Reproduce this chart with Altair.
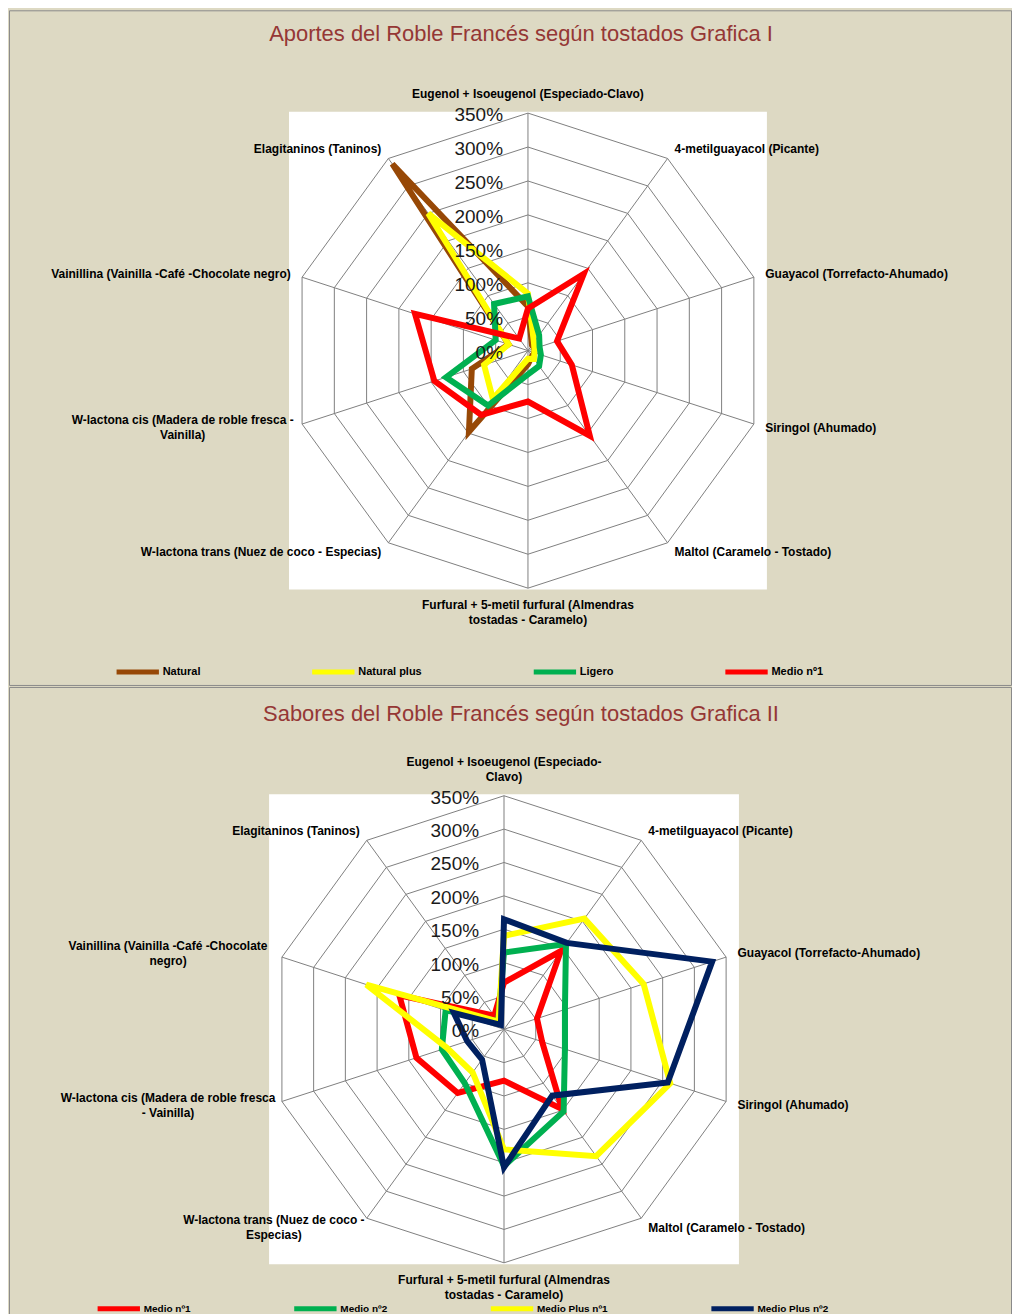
import altair as alt
import pandas as pd

# ---------------- data ----------------
CATS_1 = [
    "Eugenol + Isoeugenol (Especiado-Clavo)",
    "4-metilguayacol (Picante)",
    "Guayacol (Torrefacto-Ahumado)",
    "Siringol (Ahumado)",
    "Maltol (Caramelo - Tostado)",
    "Furfural + 5-metil furfural (Almendras\ntostadas - Caramelo)",
    "W-lactona trans (Nuez de coco  - Especias)",
    "W-lactona cis (Madera de roble fresca -\nVainilla)",
    "Vainillina (Vainilla -Café -Chocolate negro)",
    "Elagitaninos (Taninos)",
]
CATS_2 = [
    "Eugenol + Isoeugenol (Especiado-\nClavo)",
    "4-metilguayacol (Picante)",
    "Guayacol (Torrefacto-Ahumado)",
    "Siringol (Ahumado)",
    "Maltol (Caramelo - Tostado)",
    "Furfural + 5-metil furfural (Almendras\ntostadas - Caramelo)",
    "W-lactona trans (Nuez de coco -\nEspecias)",
    "W-lactona cis (Madera de roble fresca\n- Vainilla)",
    "Vainillina (Vainilla -Café -Chocolate\nnegro)",
    "Elagitaninos (Taninos)",
]

SERIES_1 = ["Natural", "Natural plus", "Ligero", "Medio nº1"]
NATURAL = [65, 10, 10, 10, 10, 20, 148, 87, 30, 340]
NATURAL_PLUS = [84, 15, 10, 10, 15, 12, 88, 68, 30, 250]
LIGERO = [80, 28, 18, 20, 28, 35, 100, 127, 50, 85]
MEDIO_1_A = [62, 140, 45, 68, 155, 75, 117, 145, 175, 22]
COLORS_1 = ["#974806", "#FFFF00", "#00B050", "#FF0000"]

SERIES_2 = ["Medio nº1", "Medio nº2", "Medio Plus nº1", "Medio Plus nº2"]
MEDIO_1_B = [70, 145, 52, 60, 148, 77, 118, 138, 165, 25]
MEDIO_2 = [115, 158, 96, 96, 152, 205, 100, 98, 92, 15]
MEDIO_PLUS_1 = [140, 205, 220, 262, 235, 180, 80, 90, 217, 14]
MEDIO_PLUS_2 = [165, 160, 328, 258, 123, 207, 56, 58, 79, 8]
COLORS_2 = ["#FF0000", "#00B050", "#FFFF00", "#002060"]

RING_VALUES = [0, 50, 100, 150, 200, 250, 300, 350]
RING_LABELS = ["0%", "50%", "100%", "150%", "200%", "250%", "300%", "350%"]

TITLE_1 = "Aportes del Roble Francés según tostados Grafica I"
TITLE_2 = "Sabores del Roble Francés según tostados Grafica II"

# ---------------- style ----------------
PANEL_W = 1004
BG = "#DDD9C3"
GRID = "#808080"
TITLE_COLOR = "#953735"
LBL_FONT = "'Liberation Sans Narrow', 'Liberation Sans', Arial, sans-serif"
TITLE_FONT = "'Liberation Sans', Arial, sans-serif"
RING_FONT = "'Liberation Sans', Arial, sans-serif"
CHARW = 5.55  # approx px per character of category labels
LINE_H = 15


def radar(title, title_dy, cats, names, values, colors, cx, cy, px, height,
          legend_x, legend_y, legend_font, legend_pad):
    n = len(cats)
    rmax = RING_VALUES[-1]
    xs = alt.Scale(domain=[-cx / px, (PANEL_W - cx) / px], nice=False, zero=False)
    ys = alt.Scale(domain=[-(height - cy) / px, cy / px], nice=False, zero=False)
    ang = f"datum.k * 2 * PI / {n}"

    def X(f):
        return alt.X(f, type="quantitative", scale=xs, axis=None)

    def Y(f):
        return alt.Y(f, type="quantitative", scale=ys, axis=None)

    wr = rmax * 1.006
    plot_bg = alt.Chart(pd.DataFrame({"lo": [-wr], "hi": [wr]})).mark_rect(
        color="white"
    ).encode(x=X("lo"), x2="hi:Q", y=Y("lo"), y2="hi:Q")

    ring_df = pd.DataFrame([{"r": r, "k": k} for r in RING_VALUES[1:] for k in range(n)])
    rings = alt.Chart(ring_df).transform_calculate(a=ang).transform_calculate(
        x="datum.r * sin(datum.a)", y="datum.r * cos(datum.a)"
    ).mark_line(interpolate="linear-closed", stroke=GRID, strokeWidth=1).encode(
        x=X("x"), y=Y("y"), detail="r:N", order="k:Q"
    )

    spoke_df = pd.DataFrame({"k": list(range(n)), "r": [rmax] * n})
    spokes = alt.Chart(spoke_df).transform_calculate(a=ang).transform_calculate(
        x="datum.r * sin(datum.a)", y="datum.r * cos(datum.a)", o="0"
    ).mark_rule(stroke=GRID, strokeWidth=1).encode(
        x=X("o"), y=Y("o"), x2="x:Q", y2="y:Q"
    )

    rows = [
        {"series": nm, "k": k, "v": v}
        for nm, vals in zip(names, values)
        for k, v in enumerate(vals)
    ]
    sdf = pd.DataFrame(rows)
    color = alt.Color(
        "series:N",
        scale=alt.Scale(domain=names, range=colors),
        legend=alt.Legend(
            title=None, orient="none", legendX=legend_x, legendY=legend_y,
            direction="horizontal", symbolType="stroke", symbolStrokeWidth=5,
            symbolSize=1800, clipHeight=12, labelFont=LBL_FONT,
            labelFontSize=legend_font, labelFontWeight="bold", labelColor="black",
            columnPadding=legend_pad, labelOffset=1, padding=0,
        ),
    )
    lines = [
        alt.Chart(sdf).transform_filter(alt.datum.series == nm)
        .transform_calculate(a=ang)
        .transform_calculate(x="datum.v * sin(datum.a)", y="datum.v * cos(datum.a)")
        .mark_line(interpolate="linear-closed", strokeWidth=6, strokeJoin="miter")
        .encode(x=X("x"), y=Y("y"), color=color, order="k:Q")
        for nm in names
    ]

    rl_df = pd.DataFrame({"v": RING_VALUES, "t": RING_LABELS})
    ring_labels = alt.Chart(rl_df).transform_calculate(o="0").mark_text(
        align="right", baseline="middle", dx=-25, dy=2, fontSize=19,
        font=RING_FONT, color="#1a1a1a"
    ).encode(x=X("o"), y=Y("v"), text="t:N")

    cat_df = pd.DataFrame({
        "k": list(range(n)),
        "label": cats,
        "w": [max(len(s) for s in c.split("\n")) for c in cats],
        "nl": [c.count("\n") for c in cats],
    })
    R = rmax + 12 / px
    base = alt.Chart(cat_df).transform_calculate(a=ang).transform_calculate(
        lx=f"{R} * sin(datum.a)",
        ly=f"{R} * cos(datum.a)",
        lyb=f"{R} * cos(datum.a) + datum.nl * {LINE_H / px}",
        lym=f"{R} * cos(datum.a) + datum.nl * {LINE_H / 2 / px}",
        lxm=f"{R} * sin(datum.a) - datum.w * {CHARW / 2 / px}",
    )
    specs = [
        ("cos(datum.a) > 0.99", "center", "bottom", "lx", "lyb"),
        ("cos(datum.a) < -0.99", "center", "top", "lx", "ly"),
        ("sin(datum.a) > 0.01", "left", "middle", "lx", "lym"),
        ("sin(datum.a) < -0.01 && indexof(datum.label, '\\n') < 0", "right", "middle", "lx", "lym"),
        ("sin(datum.a) < -0.01 && indexof(datum.label, '\\n') >= 0", "center", "middle", "lxm", "lym"),
    ]
    label_layers = [
        base.transform_filter(cond).mark_text(
            align=al, baseline=bl, lineBreak="\n", fontSize=12, font=LBL_FONT,
            fontWeight="bold", color="black", lineHeight=LINE_H
        ).encode(x=X(xf), y=Y(yf), text="label:N")
        for cond, al, bl, xf, yf in specs
    ]

    return alt.layer(plot_bg, rings, spokes, *lines, ring_labels, *label_layers).properties(
        width=PANEL_W,
        height=height,
        title=alt.TitleParams(
            title, orient="top", anchor="middle", frame="group", offset=-29,
            baseline="middle", dx=11, dy=title_dy, fontSize=22, font=TITLE_FONT,
            fontWeight="normal", color=TITLE_COLOR,
        ),
    )


p1 = radar(TITLE_1, 17, CATS_1, SERIES_1,
           [NATURAL, NATURAL_PLUS, LIGERO, MEDIO_1_A], COLORS_1,
           cx=520, cy=341, px=238 / 350, height=676,
           legend_x=105, legend_y=657, legend_font=11, legend_pad=109)
p2 = radar(TITLE_2, 20, CATS_2, SERIES_2,
           [MEDIO_1_B, MEDIO_2, MEDIO_PLUS_1, MEDIO_PLUS_2], COLORS_2,
           cx=496, cy=343, px=234 / 350, height=640,
           legend_x=86, legend_y=617, legend_font=10, legend_pad=101)

chart = (
    alt.vconcat(p1, p2, spacing=0, padding=0)
    .resolve_scale(x="independent", y="independent", color="independent")
    .resolve_legend(color="independent")
    .configure(background=BG)
    .configure_view(stroke="#8a8a8a", strokeWidth=1)
)

chart.save("out.html", embed_options={"renderer": "svg", "actions": False})
